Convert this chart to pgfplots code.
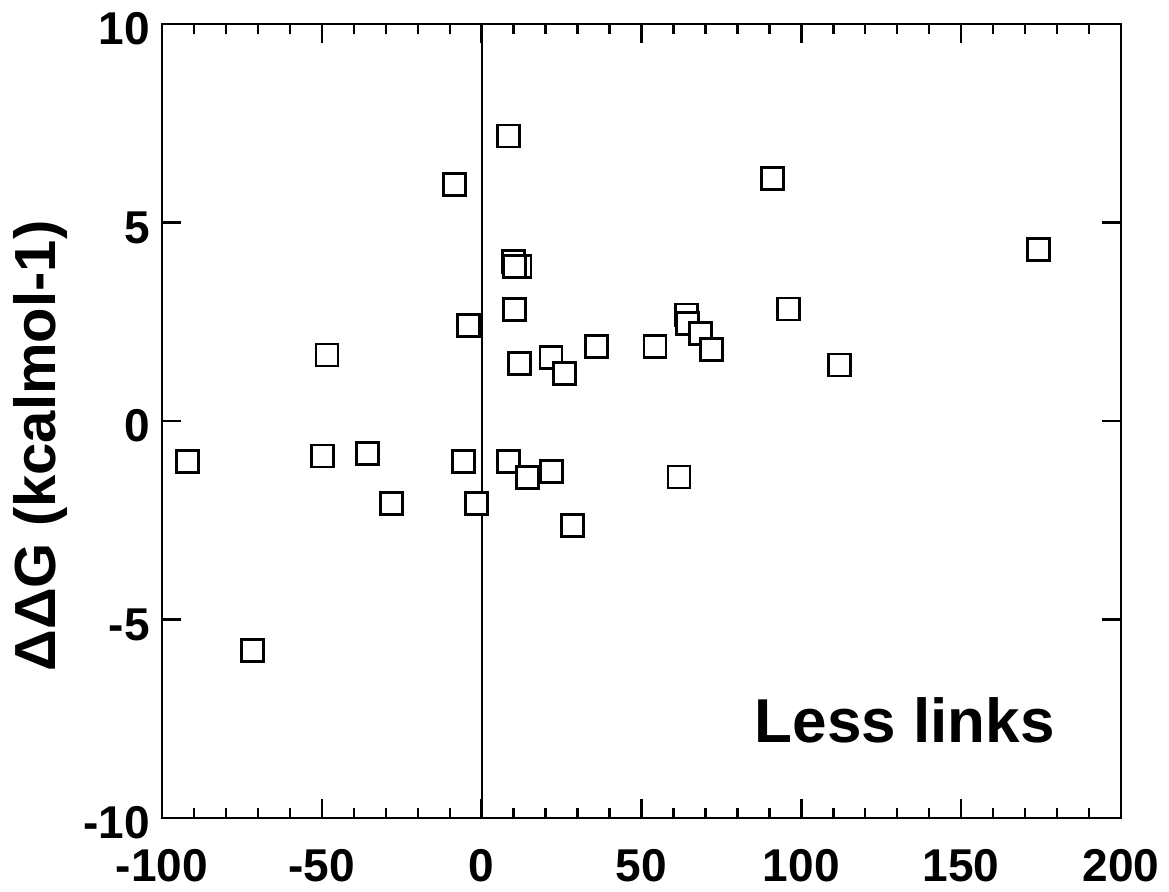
\documentclass[border=0pt]{standalone}
\usepackage{fontspec}
\setmainfont{Liberation Sans}
\usepackage{pgfplots}
\pgfplotsset{compat=1.18}
\pgfplotstableread{
x y
-92.0 -1.03
-71.6 -5.78
-49.9 -0.88
-48.4 1.66
-35.7 -0.82
-28.2 -2.08
-8.4 5.96
-5.6 -1.03
-4.1 2.40
-1.5 -2.08
8.4 7.18
8.3 -1.03
12.0 3.90
9.9 4.01
10.2 3.90
10.2 2.81
11.8 1.45
21.8 -1.28
14.3 -1.42
21.7 1.59
26.0 1.20
28.5 -2.63
35.8 1.88
54.2 1.87
61.7 -1.41
64.0 2.67
64.3 2.46
68.4 2.21
71.9 1.81
91.1 6.10
95.9 2.82
111.9 1.41
174.3 4.31
}\datatable
\begin{document}
\begin{tikzpicture}
\path[use as bounding box] (-81bp,-37bp) rectangle (503.5bp,409bp);
\begin{axis}[
  at={(0,0)}, anchor=south west,
  scale only axis, width=479.5bp, height=397bp,
  xmin=-100, xmax=200, ymin=-10, ymax=10,
  xtick={-100,-50,0,50,100,150,200},
  xticklabels={-100,-50,0,50,100,150,200},
  ytick={-10,-5,0,5,10},
  yticklabels={-10,-5,0,5,10},
  minor x tick num=4,
  tick align=inside,
  major tick length=9.3bp, minor tick length=5bp,
  axis line style={line width=1.2bp, black},
  tick style={line width=1.2bp, black},
  xticklabel style={font=\fontsize{23bp}{23bp}\selectfont\bfseries, inner sep=0pt, yshift=-15.5bp},
  yticklabel style={font=\fontsize{23bp}{23bp}\selectfont\bfseries, inner sep=0pt, xshift=-6bp, yshift=-2.5bp},
  ylabel={ΔΔG (kcalmol-1)},
  every axis y label/.style={at={(axis description cs:-0.127,0.4685)}, rotate=90, anchor=center, font=\fontsize{29bp}{29bp}\selectfont\bfseries},
  clip=false,
]
\addplot[black, line width=1bp, no marks] coordinates {(0,-10) (0,10)};
\addplot[only marks, mark=square*, mark size=5.5bp, mark options={line width=1.4bp, draw=black, fill=white}] table[x=x, y=y] {\datatable};
\node[anchor=base, font=\fontsize{31bp}{31bp}\selectfont\bfseries] at (axis cs:132.4,-8.11) {Less links};
\end{axis}
\end{tikzpicture}
\end{document}
